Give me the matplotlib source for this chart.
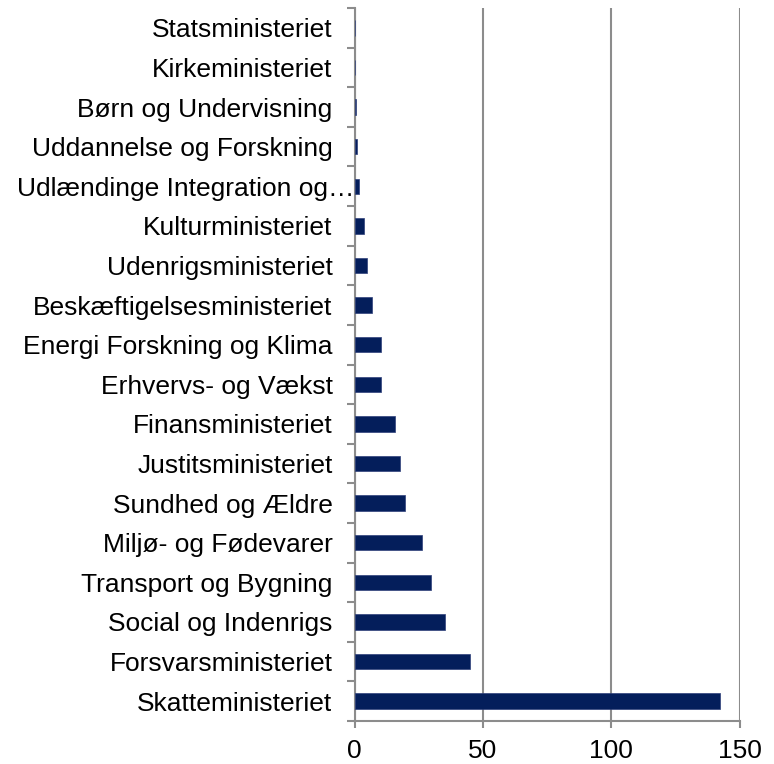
import matplotlib
matplotlib.use('Agg')
import matplotlib.pyplot as plt
import matplotlib.transforms as mtransforms
import numpy as np
from matplotlib import rcParams

rcParams['font.family'] = ['Liberation Sans', 'DejaVu Sans']

# top-to-bottom order as shown in the chart
ministries = [
    'Statsministeriet', 'Kirkeministeriet', 'Børn og Undervisning',
    'Uddannelse og Forskning', 'Udlændinge Integration og…',
    'Kulturministeriet', 'Udenrigsministeriet', 'Beskæftigelsesministeriet',
    'Energi Forskning og Klima', 'Erhvervs- og Vækst', 'Finansministeriet',
    'Justitsministeriet', 'Sundhed og Ældre', 'Miljø- og Fødevarer',
    'Transport og Bygning', 'Social og Indenrigs', 'Forsvarsministeriet',
    'Skatteministeriet',
]
values = [0.0, 0.2, 0.5, 0.8, 1.8, 3.6, 4.7, 6.6, 10.1, 10.4, 15.7,
          17.6, 19.5, 26.1, 29.7, 35.2, 44.9, 142.2]
xticks = [0, 50, 100, 150]

BAR = '#041E5B'
GRID = '#8C8C8C'

fig = plt.figure(figsize=(7.74, 7.64), dpi=100)
ax = fig.add_axes([0.4583, 0.0563, 0.4974, 0.9332])

y = np.arange(len(ministries))
ax.barh(y, values, height=0.39, color=BAR, edgecolor='#2E3F7A', linewidth=0.5, zorder=3)

ax.set_xlim(0, 150)
ax.set_ylim(len(ministries) - 0.5, -0.5)
ax.set_xticks(xticks)
ax.set_xticklabels([str(t) for t in xticks])
ax.set_yticks(y)
ax.set_yticklabels(ministries)
ax.set_yticks(np.arange(len(ministries) + 1) - 0.5, minor=True)

ax.grid(True, axis='x', color=GRID, linewidth=1.5, zorder=0)
for s in ['top', 'right']:
    ax.spines[s].set_visible(False)
for s in ['left', 'bottom']:
    ax.spines[s].set_color(GRID)
    ax.spines[s].set_linewidth(1.5)

ax.tick_params(axis='y', which='major', length=0, pad=16, labelsize=19)
ax.tick_params(axis='y', which='minor', length=6, width=1.5, color=GRID)
ax.tick_params(axis='x', which='major', length=5, width=1.5, color=GRID,
               pad=8, labelsize=19)

# the truncated label runs up to the axis, as in the original
for lbl in ax.get_yticklabels():
    if lbl.get_text().endswith('…'):
        shift = mtransforms.ScaledTranslation(22 / 100, 0, fig.dpi_scale_trans)
        lbl.set_transform(lbl.get_transform() + shift)

fig.savefig('out.png', dpi=100)
